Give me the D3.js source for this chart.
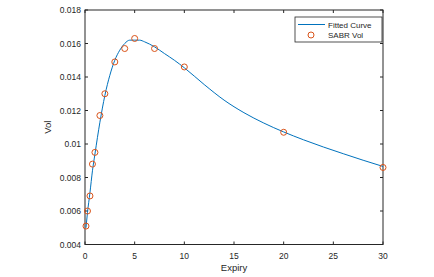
<!DOCTYPE html>
<html>
<head>
<meta charset="utf-8">
<script src="https://cdn.jsdelivr.net/npm/d3@7"></script>
<style>
  body { margin: 0; background: #fff; }
  text { font-family: "Liberation Sans", Arial, sans-serif; fill: #262626; }
</style>
</head>
<body>
<script>
// fitted curve
var curveExpiry = [0.1, 0.25, 0.5, 0.75, 1, 1.5, 2, 2.5, 3, 3.5, 4, 4.5, 5, 5.5, 6, 7, 8, 9, 10, 12, 14, 16, 18, 20, 22, 24, 26, 28, 30];
var curveVol = [0.0050, 0.0059, 0.0071, 0.0084, 0.0094, 0.0113, 0.0129, 0.0141, 0.0150, 0.0156, 0.0160, 0.0162, 0.0162, 0.0162, 0.0161, 0.0158, 0.0154, 0.0150, 0.01455, 0.01355, 0.01262, 0.01187, 0.01125, 0.01072, 0.01025, 0.00982, 0.00942, 0.00903, 0.00866];

// SABR vol points
var sabrExpiry = [0.1, 0.25, 0.5, 0.75, 1, 1.5, 2, 3, 4, 5, 7, 10, 20, 30];
var sabrVol = [0.0051, 0.0060, 0.0069, 0.0088, 0.0095, 0.0117, 0.0130, 0.0149, 0.0157, 0.0163, 0.0157, 0.0146, 0.0107, 0.0086];

var xTicks = [0, 5, 10, 15, 20, 25, 30];
var yTicks = [0.004, 0.006, 0.008, 0.01, 0.012, 0.014, 0.016, 0.018];

var legendLabels = ["Fitted Curve", "SABR Vol"];

var W = 434, H = 277;
var mLeft = 85, mRight = 383, mTop = 10, mBottom = 244.5;
var blue = "#0072BD", orange = "#D95319";

var svg = d3.select("body").append("svg")
  .attr("width", W)
  .attr("height", H);

var x = d3.scaleLinear().domain([0, 30]).range([mLeft, mRight]);
var y = d3.scaleLinear().domain([0.004, 0.018]).range([mBottom, mTop]);

// axes box
svg.append("rect")
  .attr("x", mLeft).attr("y", mTop)
  .attr("width", mRight - mLeft).attr("height", mBottom - mTop)
  .attr("fill", "none")
  .attr("stroke", "#262626")
  .attr("stroke-width", 1);

var tk = 3;
// inward ticks, all four sides
xTicks.forEach(function(t){
  svg.append("line").attr("x1", x(t)).attr("x2", x(t)).attr("y1", mBottom).attr("y2", mBottom - tk).attr("stroke", "#262626");
  svg.append("line").attr("x1", x(t)).attr("x2", x(t)).attr("y1", mTop).attr("y2", mTop + tk).attr("stroke", "#262626");
  svg.append("text")
    .attr("x", x(t)).attr("y", 259)
    .attr("text-anchor", "middle")
    .style("font-size", "8.5px")
    .text(t);
});
yTicks.forEach(function(t){
  svg.append("line").attr("x1", mLeft).attr("x2", mLeft + tk).attr("y1", y(t)).attr("y2", y(t)).attr("stroke", "#262626");
  svg.append("line").attr("x1", mRight).attr("x2", mRight - tk).attr("y1", y(t)).attr("y2", y(t)).attr("stroke", "#262626");
  svg.append("text")
    .attr("x", mLeft - 4).attr("y", y(t) + 3)
    .attr("text-anchor", "end")
    .style("font-size", "8.5px")
    .text(d3.format(".3~f")(t));
});

// axis labels
svg.append("text")
  .attr("x", (mLeft + mRight) / 2).attr("y", 271)
  .attr("text-anchor", "middle")
  .style("font-size", "9.5px")
  .text("Expiry");

svg.append("text")
  .attr("transform", "translate(51," + ((mTop + mBottom) / 2) + ") rotate(-90)")
  .attr("text-anchor", "middle")
  .style("font-size", "9.5px")
  .text("Vol");

// fitted curve
var curveData = curveExpiry.map(function(d, i){ return [d, curveVol[i]]; });
var line = d3.line()
  .x(function(d){ return x(d[0]); })
  .y(function(d){ return y(d[1]); })
  .curve(d3.curveMonotoneX);

svg.append("path")
  .datum(curveData)
  .attr("d", line)
  .attr("fill", "none")
  .attr("stroke", blue)
  .attr("stroke-width", 1);

// SABR markers
svg.selectAll(".sabr")
  .data(sabrExpiry)
  .enter()
  .append("circle")
  .attr("class", "sabr")
  .attr("cx", function(d){ return x(d); })
  .attr("cy", function(d, i){ return y(sabrVol[i]); })
  .attr("r", 3)
  .attr("fill", "none")
  .attr("stroke", orange)
  .attr("stroke-width", 1);

// legend
var lg = svg.append("g").attr("class", "legend");
lg.append("rect")
  .attr("x", 295).attr("y", 17)
  .attr("width", 87).attr("height", 25)
  .attr("fill", "#fff")
  .attr("stroke", "#262626")
  .attr("stroke-width", 0.8);
lg.append("line")
  .attr("x1", 298).attr("x2", 325)
  .attr("y1", 24.5).attr("y2", 24.5)
  .attr("stroke", blue).attr("stroke-width", 1);
lg.append("circle")
  .attr("cx", 311).attr("cy", 35).attr("r", 3)
  .attr("fill", "none").attr("stroke", orange).attr("stroke-width", 1);
lg.selectAll(".lgText")
  .data(legendLabels)
  .enter()
  .append("text")
  .attr("class", "lgText")
  .attr("x", 328)
  .attr("y", function(d, i){ return 27.5 + i * 10.5; })
  .style("font-size", "8px")
  .text(function(d){ return d; });
</script>
</body>
</html>
